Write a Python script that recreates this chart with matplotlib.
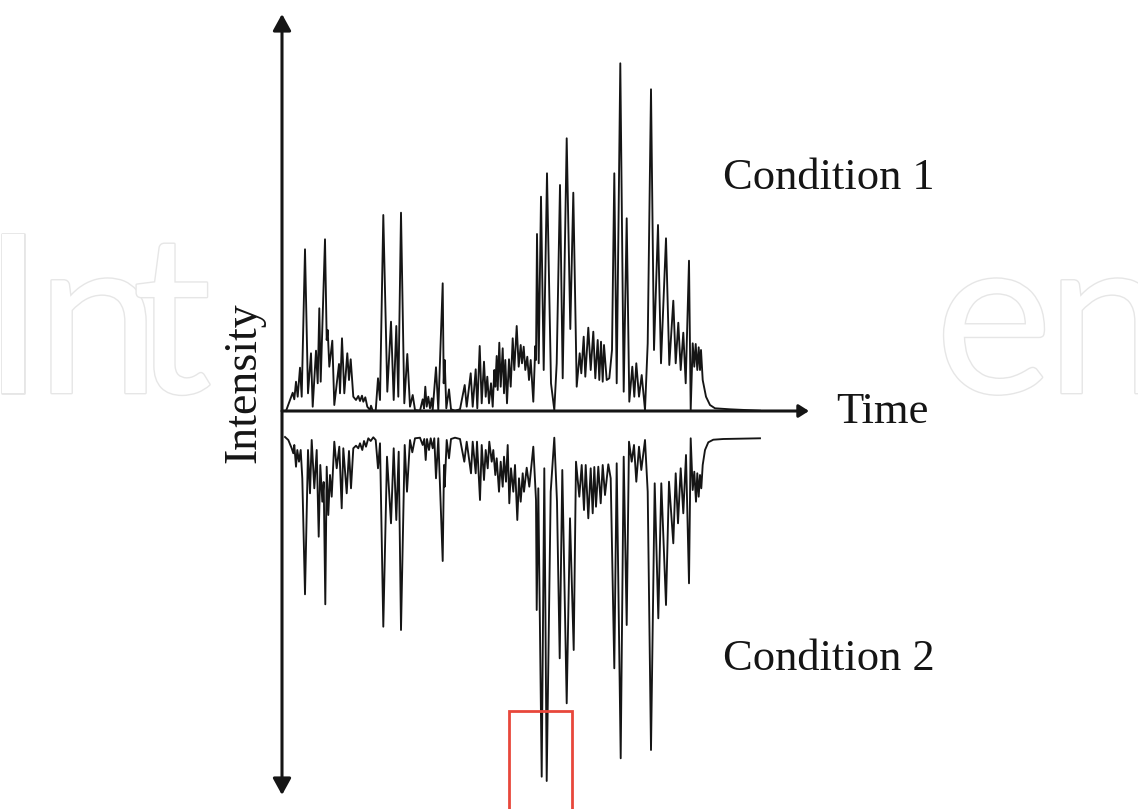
import matplotlib
matplotlib.use("Agg")
import matplotlib.pyplot as plt
from matplotlib.patches import Rectangle
import matplotlib.patheffects as pe

# ---------------- data (time in arbitrary units, intensity in arbitrary units) -------------
cond1_time = [
    4, 10.7, 12.3, 14, 15.7, 18, 19.7, 23, 26, 29,
    30.7, 34, 35.7, 37.3, 38.7, 43, 44.7, 45.7, 47.3, 50.3,
    52.3, 57, 58, 60, 62.3, 65.3, 67, 68.7, 71.3, 74,
    76.3, 78, 80, 81.3, 83.3, 85.3, 88, 89, 90.7, 93.7,
    96, 98, 101.3, 105.3, 109, 111.7, 114.3, 116.3, 119, 122.3,
    125.3, 128, 130.7, 133, 138, 140.7, 142, 143.3, 144.7, 146.3,
    148, 149.7, 150.7, 154, 156.3, 160.7, 161.7, 162.7, 164.3, 167,
    169, 173, 178, 182.7, 184.7, 188.7, 190.7, 193.7, 195.3, 197.7,
    199.7, 202, 203.7, 205.3, 207, 209, 210.7, 212.3, 213.3, 214.7,
    215.7, 217.3, 218.7, 220.7, 222, 223.3, 225, 227, 228.7, 230.7,
    232.3, 234.7, 236.7, 238.7, 240, 241.7, 243.3, 245.3, 247, 248.7,
    251.3, 253.3, 254, 255, 256.7, 259, 261.7, 265, 269, 272.3,
    274.7, 278, 280.7, 284.7, 288.3, 291.3, 294.7, 297.7, 299.3, 301.7,
    303.3, 306.3, 308.7, 311.3, 313.3, 315.7, 317.3, 319, 320.7, 322,
    324.7, 327.3, 330, 332.3, 334.7, 338.3, 341.7, 344.7, 347.3, 350.3,
    352.3, 354.3, 357, 359.7, 363, 365.7, 369, 372, 376, 379,
    384, 387.3, 391.3, 393.7, 396.3, 398.7, 401.3, 403.7, 407, 408.7,
    410.7, 412.3, 413.7, 415.3, 416.7, 418, 419, 420.7, 424, 428,
    433, 448, 478,
]
cond1_intensity = [
    0, 18.3, 11.7, 29.3, 14.3, 43.3, 14.3, 161.7, 17.7, 57.7,
    4.3, 60.3, 27.7, 102.7, 29.3, 171.7, 71, 81, 44.3, 70.3,
    6, 47, 17.7, 72.7, 17.7, 57.7, 31, 51.7, 14.3, 11,
    15, 10, 15.3, 9.3, 13.7, 4.3, 1, 5.3, 0.3, 0.3,
    32.7, 11, 196, 19.3, 89.3, 11, 85, 14.3, 198.3, 7.7,
    57, 4.3, 16, 1, 0.3, 11.7, 2.7, 24.3, 4.3, 14.3,
    2.7, 12.7, 1, 43.7, 1, 127.7, 27.7, 51, 2.7, 21.7,
    1.7, 0.3, 1.7, 26, 4.3, 37.7, 4.3, 41.7, 2.7, 65,
    7.7, 49.3, 14.3, 34.3, 7.7, 27.7, 4.3, 41, 24.3, 55,
    21, 68.3, 24.3, 62.7, 17.7, 51, 7.7, 51.7, 24.3, 72.7,
    41, 85, 44.3, 66, 47.7, 64.3, 41, 54.3, 31, 51,
    9.3, 65, 51, 177, 47.7, 214.3, 41, 237.7, 27.7, 1,
    47.7, 226, 32.7, 272.7, 82, 218.3, 24.3, 57.7, 37.7, 74.3,
    34.3, 83.3, 41, 79.3, 32.7, 71, 31, 69.3, 29.3, 66,
    31, 32.7, 61, 237.7, 27.7, 347.7, 19.3, 192.7, 9.3, 44.3,
    14.3, 47.7, 14.3, 36, 1, 67.7, 321.7, 61, 186, 47.7,
    172.7, 46, 110.3, 47.7, 88.3, 41, 78.3, 27.7, 150.3, 1,
    67.7, 44.3, 67, 41, 63.7, 41, 61, 31, 14.3, 6,
    2.7, 1.7, 0.3,
]

cond2_time = [
    3, 6.3, 9.7, 11.3, 12.3, 14, 15.3, 17, 18.7, 20.3,
    23, 26, 28, 29.7, 32.3, 34.7, 36.7, 38.3, 40.3, 41.7,
    43.3, 44.7, 46.3, 48, 49.7, 52.3, 54.7, 57.3, 59.7, 61.3,
    64.7, 67, 69, 71.3, 74, 76.3, 78, 80.3, 82, 84,
    86.3, 88.7, 91.3, 93.7, 96, 98, 101.3, 105, 109, 111.7,
    114.3, 116.7, 119, 122.7, 125, 128, 130.3, 133, 138, 140.7,
    142.3, 143.7, 145, 147, 148.7, 150.7, 152.3, 154, 156.3, 160.7,
    162, 162.7, 164.7, 167, 169, 173, 178, 182.3, 184.7, 189,
    190.7, 193.7, 195, 198, 199.7, 202, 203.7, 205.7, 207.3, 209.7,
    211.3, 213.3, 214.7, 217, 218.7, 220.7, 222, 224, 225.7, 227.3,
    229, 231.3, 233, 235.3, 237, 238.7, 240.7, 242, 244.7, 247.3,
    251.3, 254, 254.7, 256.3, 259.7, 262.3, 264.7, 268.7, 272.3, 275,
    277.7, 280.3, 284.7, 288, 291.7, 294, 297.3, 299.7, 302, 303.7,
    306.3, 308.7, 310.7, 312.3, 314, 316.3, 318.7, 320.7, 323, 326.3,
    328.7, 332.3, 334.7, 338.7, 341.7, 344.7, 347, 349.7, 352, 354.3,
    357, 359.3, 363, 365.7, 369, 372.7, 376.3, 379.3, 384, 387,
    391.3, 393.7, 396, 398.7, 401.3, 404, 407, 408.7, 410.7, 412.3,
    414, 415.3, 416.7, 418, 419.3, 420.7, 423, 426.3, 431.3, 441.3,
    478,
]
cond2_intensity = [
    0, 3, 11.3, 16.3, 8, 29.7, 13, 24.7, 13, 41.3,
    157.3, 13, 56.3, 3, 51.3, 13, 99.7, 28, 64.7, 45,
    167.3, 29.7, 78, 38, 59.7, 4.7, 31.3, 9.7, 71.3, 11.3,
    56.3, 14, 51.3, 11.3, 8.7, 11.3, 6.3, 13, 4, 9.7,
    1.3, 4, 0.3, 3, 31.3, 6.3, 189.7, 19.7, 86.3, 11.3,
    83, 14.7, 193, 8, 54.7, 3, 15.3, 1.3, 0.7, 8,
    2, 23, 2, 13, 1.3, 11.3, 1.3, 41.3, 1.3, 124,
    28, 49.7, 3, 21.3, 2, 0.7, 2, 24.7, 4.7, 36.3,
    4.7, 36.3, 4.7, 63, 8, 43, 13, 31.3, 4.7, 24.7,
    13, 38, 21.3, 54.7, 24.7, 49.7, 19.7, 44.7, 8, 66.3,
    31.3, 54.7, 28, 83, 41.3, 64.7, 36.3, 54.7, 30.7, 49.7,
    9.7, 63, 173, 51.3, 339.7, 31.3, 344, 54.7, 0.7, 64.7,
    221.3, 33, 266.3, 81.3, 213, 24.7, 59.7, 28, 73, 28,
    81.3, 31.3, 76.3, 30, 69.7, 29.7, 66.3, 28, 58, 27.3,
    41.3, 231.3, 26.3, 321.3, 19.7, 188, 4.7, 24.7, 8, 44.7,
    9.7, 33, 3, 54.7, 313, 46.3, 181.3, 46.3, 168, 44.7,
    106.3, 36.3, 86.3, 31.3, 76.3, 18, 146.3, 1.3, 53, 34.7,
    64.7, 36.3, 59.7, 38, 51.3, 28, 13, 5.3, 2.7, 2,
    1.3,
]

labels = ["Condition 1", "Condition 2"]
x_label = "Time"
y_label = "Intensity"
highlight_window = (227.3, 290.3)   # time range of the red box

# ---------------- layout ----------------
W, H = 1138, 809
MIRROR_OFFSET = 26        # gap between the upright and the mirrored trace
X0, Y0 = 282, 411         # pixel position of the origin

fig = plt.figure(figsize=(W / 100, H / 100), dpi=100)
ax = fig.add_axes([0, 0, 1, 1])
ax.set_xlim(-X0, W - X0)
ax.set_ylim(Y0 - H, Y0)
ax.axis("off")

def px(x):
    return x - X0

def py(y):
    return Y0 - y

# watermark (faint outlined letters, partly hidden by the chart panel)
wm_kw = dict(fontsize=160, family="Lato", color="white",
             va="baseline", ha="left", zorder=0.5, clip_on=True)
for letter, left in (("I", -18), ("n", 36), ("t", 132), ("e", 935), ("n", 1046)):
    t = ax.text(px(left), py(393), letter, **wm_kw)
    t.set_path_effects([pe.withStroke(linewidth=2.0, foreground="#e6e6e6")])
ax.add_patch(Rectangle((px(262), py(H)), 940 - 262, H, facecolor="white",
                       edgecolor="none", zorder=1))

ink = "#151515"

# traces
ax.plot(cond1_time, cond1_intensity, color=ink, lw=1.35, zorder=3,
        solid_joinstyle="round")
ax.plot(cond2_time, [-MIRROR_OFFSET - v for v in cond2_intensity], color=ink,
        lw=1.35, zorder=3, solid_joinstyle="round")

# axes arrows
ax.annotate("", xy=(0, py(14)), xytext=(0, py(795)),
            arrowprops=dict(arrowstyle="<|-|>,head_length=1.0,head_width=0.55",
                            mutation_scale=10, lw=2.2, color=ink,
                            shrinkA=0, shrinkB=0), zorder=4)
ax.annotate("", xy=(px(809), 0), xytext=(0, 0),
            arrowprops=dict(arrowstyle="-|>,head_length=0.6,head_width=0.38",
                            mutation_scale=10, lw=2.2, color=ink,
                            shrinkA=0, shrinkB=0), zorder=4)

# red highlight box
ax.add_patch(Rectangle((highlight_window[0], py(860)),
                       highlight_window[1] - highlight_window[0], 860 - 711,
                       facecolor="none", edgecolor="#e8473b", lw=2.0, zorder=5))

# labels
serif = ["Liberation Serif", "DejaVu Serif"]
ax.text(px(723), py(189), labels[0], fontsize=32, family=serif, ha="left",
        va="baseline", color=ink, zorder=6)
ax.text(px(723), py(670), labels[1], fontsize=32, family=serif, ha="left",
        va="baseline", color=ink, zorder=6)
ax.text(px(836), py(423), x_label, fontsize=32, family=serif, ha="left",
        va="baseline", color=ink, zorder=6)
ax.text(px(244), py(383), y_label, fontsize=33, family=serif, ha="center",
        va="center", rotation=90, color=ink, zorder=6)

fig.savefig("out.png", dpi=100, facecolor="white")
